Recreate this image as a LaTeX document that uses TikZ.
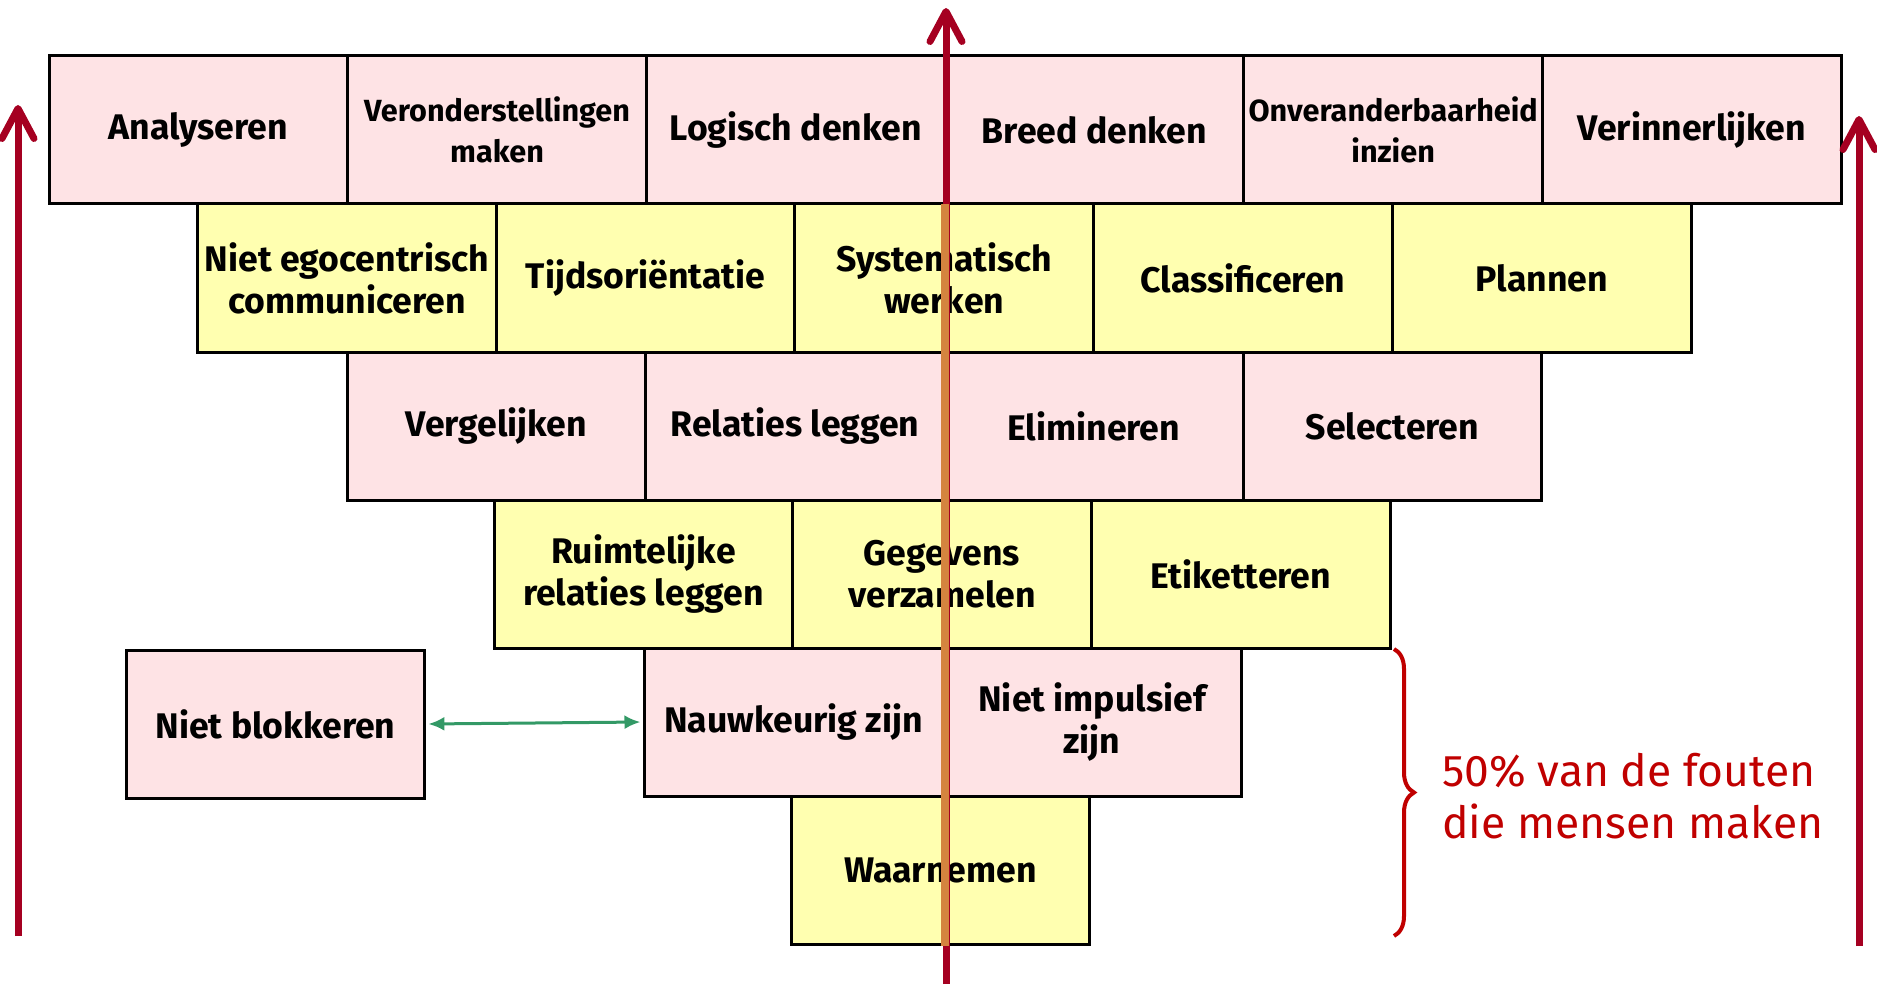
\documentclass[tikz,border=0pt]{standalone}
\usepackage{fontspec}
\setmainfont{Fira Sans}
\usetikzlibrary{arrows.meta,decorations.pathreplacing}
\definecolor{boxpink}{HTML}{FEE3E5}
\definecolor{boxyellow}{HTML}{FFFFB0}
\definecolor{arrowred}{HTML}{A50021}
\definecolor{axisorange}{HTML}{D4843F}
\definecolor{linkgreen}{HTML}{339966}
\definecolor{notered}{HTML}{C00000}
\begin{document}
\begin{tikzpicture}[x=0.5pt,y=-0.5pt,
  cell/.style={draw=black, line width=1.5pt, minimum width=149.35pt, minimum height=74pt,
    inner sep=0pt, align=center, font=\fontsize{17.8}{21}\selectfont\bfseries},
  pinkcell/.style={cell, fill=boxpink},
  yellowcell/.style={cell, fill=boxyellow},
  smalltext/.style={font=\fontsize{15.3}{20.5}\selectfont\bfseries},
  bigarrow/.style={draw=arrowred, line width=3.5pt,
    -{Straight Barb[length=15pt,width=16pt,line cap=round,line join=round]}},
]
\useasboundingbox (0,0) rectangle (1877,984);
% row 1
\node[pinkcell] (r1a) at (198.35,130) {Analyseren};
\node[pinkcell, smalltext] (r1b) at (497.05,130) {Veronderstellingen\\maken};
\node[pinkcell] (r1c) at (795.75,130) {Logisch denken};
\node[pinkcell] (r1d) at (1094.45,130) {Breed denken};
\node[pinkcell, smalltext] (r1e) at (1393.15,130) {Onveranderbaarheid\\inzien};
\node[pinkcell] (r1f) at (1691.85,130) {Verinnerlijken};
% row 2
\node[yellowcell] (r2a) at (346.85,278) {Niet egocentrisch\\communiceren};
\node[yellowcell] (r2b) at (645.55,278) {Tijdsoriëntatie};
\node[yellowcell] (r2c) at (944.25,278) {Systematisch\\werken};
\node[yellowcell] (r2d) at (1242.95,278) {Classificeren};
\node[yellowcell] (r2e) at (1541.65,278) {Plannen};
% row 3
\node[pinkcell] (r3a) at (496.35,426) {Vergelijken};
\node[pinkcell] (r3b) at (795.05,426) {Relaties leggen};
\node[pinkcell] (r3c) at (1093.75,426) {Elimineren};
\node[pinkcell] (r3d) at (1392.45,426) {Selecteren};
% row 4
\node[yellowcell] (r4a) at (643.35,574) {Ruimtelijke\\relaties leggen};
\node[yellowcell] (r4b) at (942.05,574) {Gegevens\\verzamelen};
\node[yellowcell] (r4c) at (1240.75,574) {Etiketteren};
% row 5
\node[pinkcell] (r5a) at (793.35,722) {Nauwkeurig zijn};
\node[pinkcell] (r5b) at (1092.05,722) {Niet impulsief\\zijn};
% row 6
\node[yellowcell] (r6a) at (940.35,870) {Waarnemen};
% side box
\node[pinkcell] (nb) at (275.5,724) {Niet blokkeren};
\draw[linkgreen, line width=1.5pt, shorten <=1pt, shorten >=1pt,
  {Latex[length=8pt,width=7pt]}-{Latex[length=8pt,width=7pt]}] (nb.east) -- (r5a.west);
% arrows
\coordinate (leftbot) at (18,936);
\coordinate (lefttop) at (18,105);
\coordinate (rightbot) at (1859,946);
\coordinate (righttop) at (1859,116);
\coordinate (axisbot) at (946,984);
\coordinate (axistop) at (946,8);
\coordinate (orangetop) at (945,204);
\coordinate (orangebot) at (945,946);
\draw[bigarrow] (leftbot) -- (lefttop);
\draw[bigarrow] (rightbot) -- (righttop);
\draw[bigarrow] (axisbot) -- (axistop);
\draw[axisorange, line width=3.6pt] (orangetop) -- (orangebot);
% brace and note
\coordinate (bracetop) at (1394,649);
\coordinate (bracebot) at (1394,936);
\draw[notered, line width=2pt, decorate, decoration={brace, amplitude=10pt}] (bracetop) -- (bracebot);
\node[anchor=west, text=notered, align=left, inner sep=0pt,
  font=\fontsize{22.2}{26}\selectfont] (note) at (1442,796) {50\% van de fouten\\die mensen maken};
\end{tikzpicture}
\end{document}
